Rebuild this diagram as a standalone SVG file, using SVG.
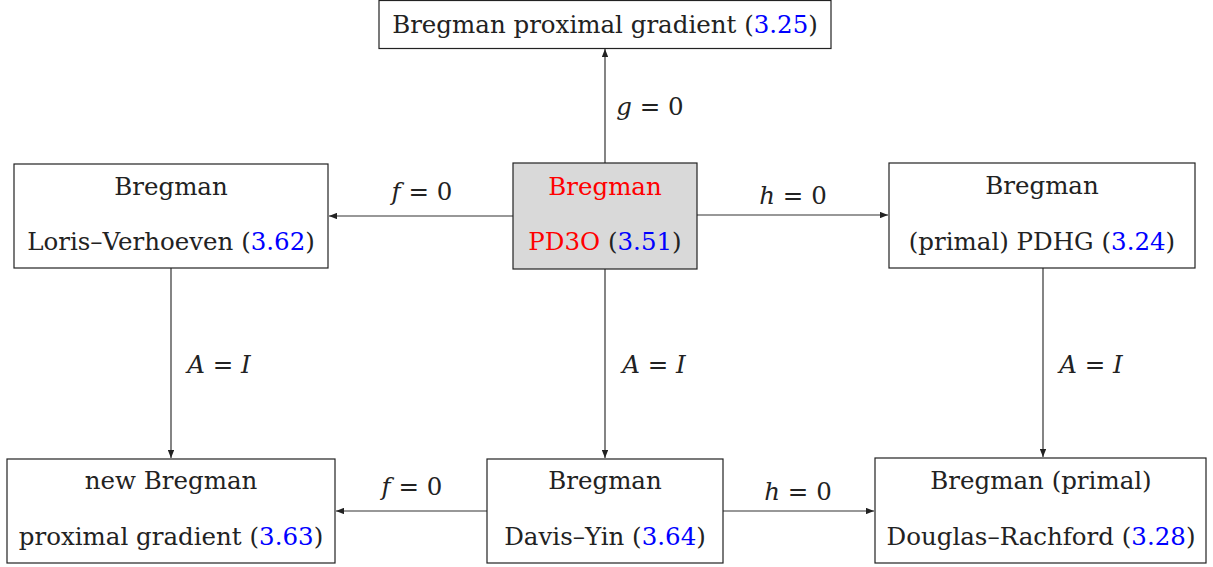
<svg xmlns="http://www.w3.org/2000/svg" width="1213" height="567" viewBox="0 0 1213 567">
<style>
.box{fill:#fff;stroke:#222;stroke-width:1.2}
.hl{fill:#d9d9d9}
text{font-family:"DejaVu Serif","Liberation Serif",serif;font-size:24.5px;fill:#222;text-anchor:middle}
.red{fill:#ff0000}
.blue{fill:#0000ff}
.m{font-style:italic}
.c line{stroke:#333;stroke-width:1.2;marker-end:url(#ah)}
</style>
<defs>
<marker id="ah" viewBox="0 0 10 8" refX="10" refY="4" markerWidth="8" markerHeight="6.4" markerUnits="userSpaceOnUse" orient="auto">
<path d="M0,0 L10,4 L0,8 z" fill="#222"/>
</marker>
</defs>
<g class="c" id="connectors">
<line x1="605" y1="163" x2="605" y2="49"/>
<line x1="513" y1="216" x2="329" y2="216"/>
<line x1="697" y1="215" x2="888" y2="215"/>
<line x1="605" y1="269" x2="605" y2="458"/>
<line x1="171" y1="268" x2="171" y2="458"/>
<line x1="1043" y1="268" x2="1043" y2="457"/>
<line x1="487" y1="511" x2="336" y2="511"/>
<line x1="723" y1="511" x2="874" y2="511"/>
<text x="650" y="115"><tspan class="m">g</tspan> = 0</text>
<text x="422" y="200"><tspan class="m">f</tspan> = 0</text>
<text x="793" y="204"><tspan class="m">h</tspan> = 0</text>
<text x="219" y="373"><tspan class="m">A</tspan> = <tspan class="m">I</tspan></text>
<text x="654" y="373"><tspan class="m">A</tspan> = <tspan class="m">I</tspan></text>
<text x="1091" y="373"><tspan class="m">A</tspan> = <tspan class="m">I</tspan></text>
<text x="412" y="495"><tspan class="m">f</tspan> = 0</text>
<text x="798" y="500"><tspan class="m">h</tspan> = 0</text>
</g>
<g id="top">
<rect class="box" x="379" y="0.5" width="452" height="48"/>
<text x="605" y="33">Bregman proximal gradient (<tspan class="blue">3.25</tspan>)</text>
</g>
<g id="center">
<rect class="box hl" x="513" y="163" width="184" height="106"/>
<text x="605" y="195" class="red">Bregman</text>
<text x="605" y="250"><tspan class="red">PD3O</tspan> (<tspan class="blue">3.51</tspan>)</text>
</g>
<g id="left">
<rect class="box" x="14" y="164" width="314" height="104"/>
<text x="171" y="195">Bregman</text>
<text x="171" y="250">Loris–Verhoeven (<tspan class="blue">3.62</tspan>)</text>
</g>
<g id="right">
<rect class="box" x="889" y="163" width="306" height="105"/>
<text x="1042" y="194">Bregman</text>
<text x="1042" y="250">(primal) PDHG (<tspan class="blue">3.24</tspan>)</text>
</g>
<g id="bottomleft">
<rect class="box" x="7" y="459" width="328" height="104"/>
<text x="171" y="489">new Bregman</text>
<text x="171" y="545">proximal gradient (<tspan class="blue">3.63</tspan>)</text>
</g>
<g id="bottomcenter">
<rect class="box" x="487" y="459" width="236" height="104"/>
<text x="605" y="489">Bregman</text>
<text x="605" y="545">Davis–Yin (<tspan class="blue">3.64</tspan>)</text>
</g>
<g id="bottomright">
<rect class="box" x="875" y="458" width="331" height="105"/>
<text x="1041" y="489">Bregman (primal)</text>
<text x="1041" y="545">Douglas–Rachford (<tspan class="blue">3.28</tspan>)</text>
</g>
</svg>
